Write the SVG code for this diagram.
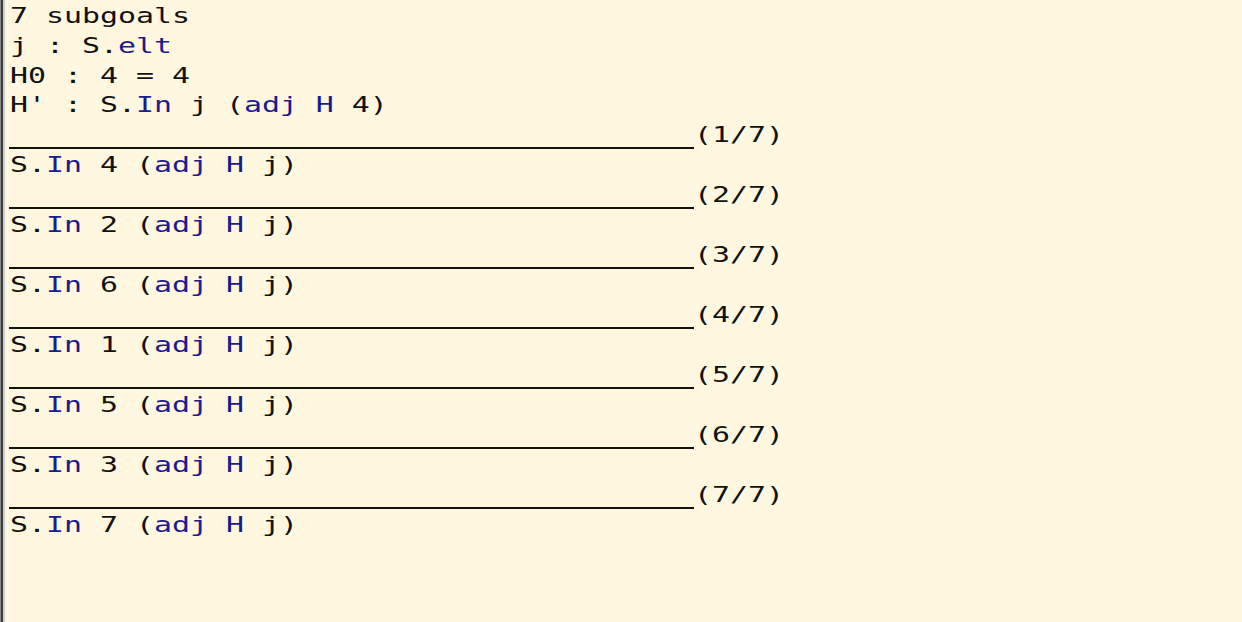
<svg xmlns="http://www.w3.org/2000/svg" width="1242" height="622" viewBox="0 0 1242 622" xml:space="preserve">
<style>
.t{font-family:"DejaVu Sans Mono","Liberation Mono",monospace;font-size:22px;fill:#111;white-space:pre}
.k{fill:#1b1b8f}
.sep{stroke:#111;stroke-width:2.2}
</style>
<rect x="0" y="0" width="1242" height="622" fill="#fff7e0"/>
<rect x="0" y="0" width="1" height="622" fill="#8a8a8a"/>
<rect x="1" y="0" width="2" height="622" fill="#3a3a3a"/>
<rect x="3" y="0" width="2" height="622" fill="#cfcfcf"/>
<g id="separators">
<line class="sep" x1="9" y1="148" x2="694" y2="148"/>
<line class="sep" x1="9" y1="208" x2="694" y2="208"/>
<line class="sep" x1="9" y1="268" x2="694" y2="268"/>
<line class="sep" x1="9" y1="328" x2="694" y2="328"/>
<line class="sep" x1="9" y1="388" x2="694" y2="388"/>
<line class="sep" x1="9" y1="448" x2="694" y2="448"/>
<line class="sep" x1="9" y1="508" x2="694" y2="508"/>
</g>
<g transform="scale(1.359,1)">
<g id="hyps">
<text class="t" x="7.36" y="23">7 subgoals</text>
<text class="t" x="7.36" y="53">j : S.<tspan class="k">elt</tspan></text>
<text class="t" x="7.36" y="83">H0 : 4 = 4</text>
<text class="t" x="7.36" y="112">H' : S.<tspan class="k">In</tspan> j (<tspan class="k">adj</tspan> <tspan class="k">H</tspan> 4)</text>
</g>
<g id="labels">
<text class="t" x="510.67" y="142">(1/7)</text>
<text class="t" x="510.67" y="202">(2/7)</text>
<text class="t" x="510.67" y="262">(3/7)</text>
<text class="t" x="510.67" y="322">(4/7)</text>
<text class="t" x="510.67" y="382">(5/7)</text>
<text class="t" x="510.67" y="442">(6/7)</text>
<text class="t" x="510.67" y="502">(7/7)</text>
</g>
<g id="goals">
<text class="t" x="7.36" y="172">S.<tspan class="k">In</tspan> 4 (<tspan class="k">adj</tspan> <tspan class="k">H</tspan> j)</text>
<text class="t" x="7.36" y="232">S.<tspan class="k">In</tspan> 2 (<tspan class="k">adj</tspan> <tspan class="k">H</tspan> j)</text>
<text class="t" x="7.36" y="292">S.<tspan class="k">In</tspan> 6 (<tspan class="k">adj</tspan> <tspan class="k">H</tspan> j)</text>
<text class="t" x="7.36" y="352">S.<tspan class="k">In</tspan> 1 (<tspan class="k">adj</tspan> <tspan class="k">H</tspan> j)</text>
<text class="t" x="7.36" y="412">S.<tspan class="k">In</tspan> 5 (<tspan class="k">adj</tspan> <tspan class="k">H</tspan> j)</text>
<text class="t" x="7.36" y="472">S.<tspan class="k">In</tspan> 3 (<tspan class="k">adj</tspan> <tspan class="k">H</tspan> j)</text>
<text class="t" x="7.36" y="532">S.<tspan class="k">In</tspan> 7 (<tspan class="k">adj</tspan> <tspan class="k">H</tspan> j)</text>
</g>
</g>
</svg>
